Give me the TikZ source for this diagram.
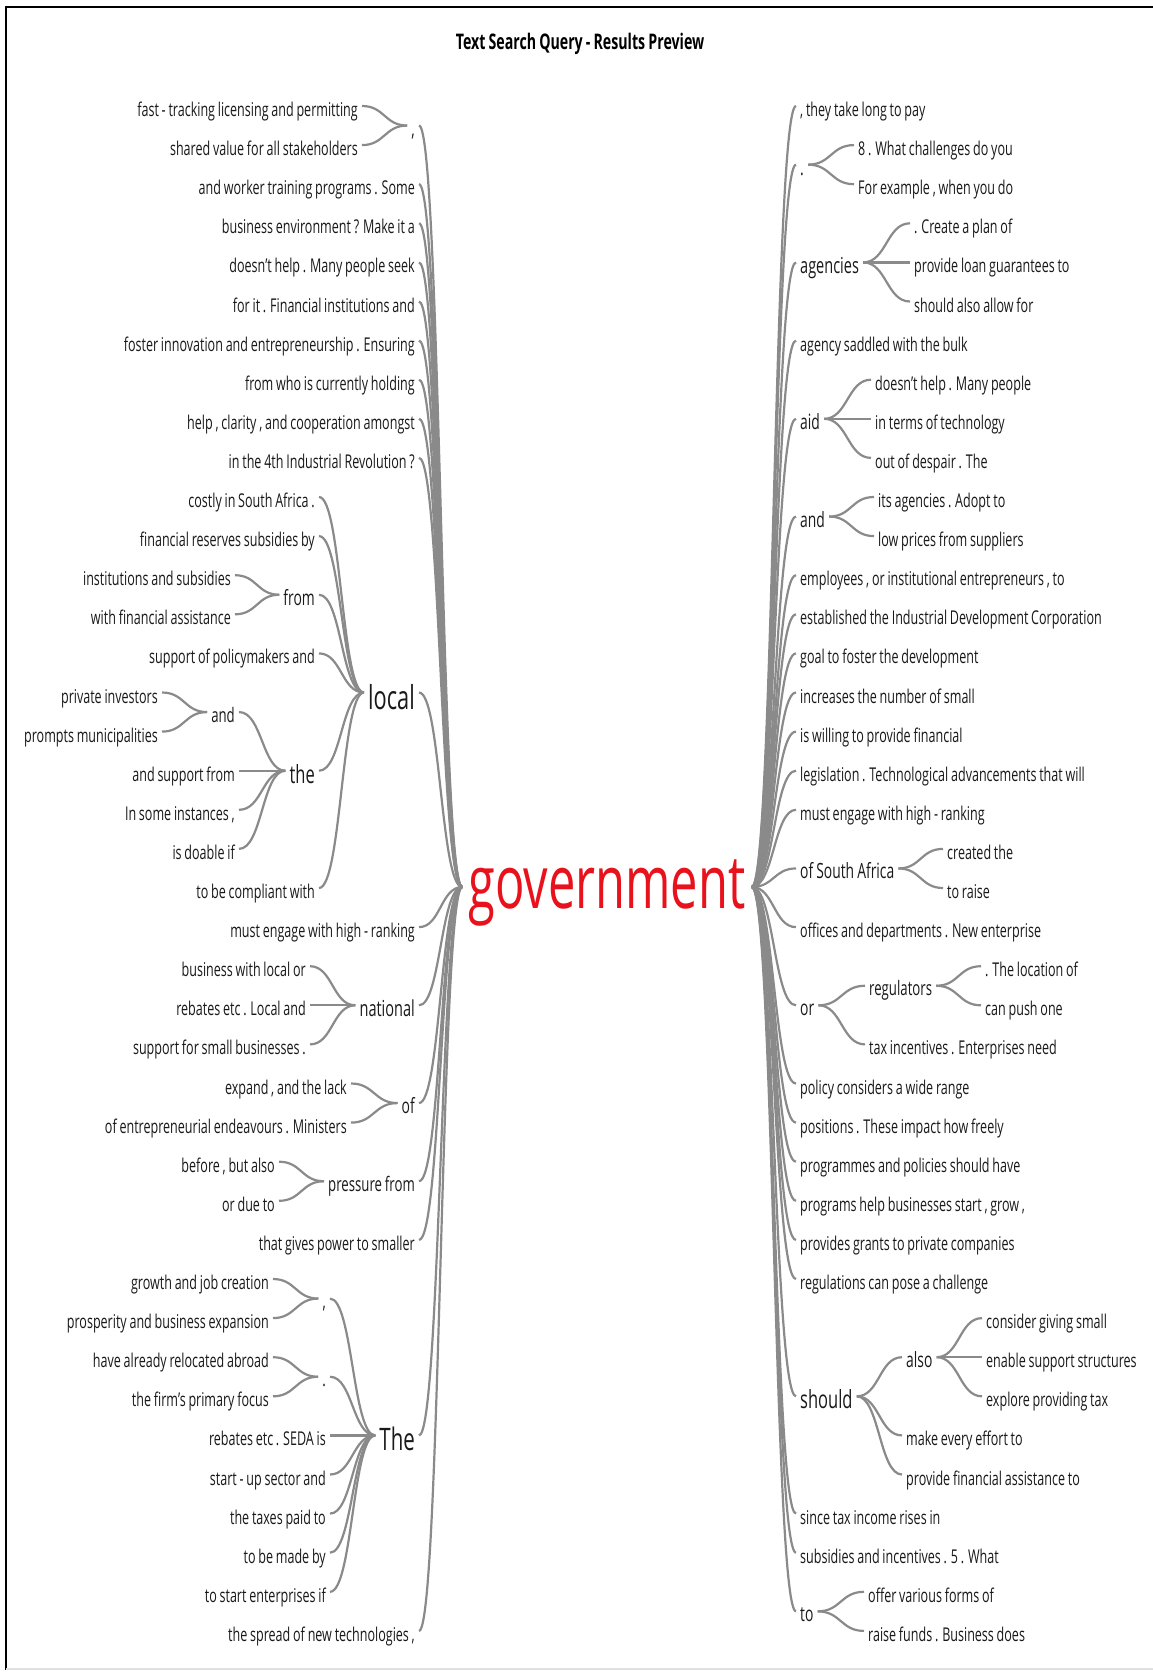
\documentclass[tikz,border=0pt]{standalone}
\usepackage{fontspec}
\setmainfont[FakeStretch=0.66,WordSpace=0.85]{Open Sans}
\usetikzlibrary{calc}
\definecolor{twiggray}{RGB}{138,138,138}
\definecolor{rootred}{RGB}{232,18,28}
\newcommand{\rowy}[1]{106+39.1*(#1)}
\tikzset{
  tree/.style={x=1pt,y=-1pt},
  leaf/.style={font=\fontsize{19}{22}\selectfont,inner xsep=4pt,inner ysep=0pt,
    text height=21pt,text depth=0pt,text=black!90},
  hub/.style={font=\fontsize{#1}{#1}\selectfont,inner xsep=4pt,inner ysep=0pt,
    text height=#1pt,text depth=0pt,text=black!90},
  hub/.default=21,
  root/.style={font=\fontsize{74}{74}\selectfont,text=rootred,inner xsep=6pt,inner ysep=0pt,
    text height=42pt,text depth=0pt},
  twig/.style={draw=twiggray,line width=2.2pt,
    to path={let \p1=(\tikztostart), \p2=(\tikztotarget) in
      .. controls ($(\p1)+({(\x2-\x1)/2},0pt)$) and ($(\p2)-({(\x2-\x1)/2},0pt)$) .. (\tikztotarget)}},
  frame/.style={line width=1.6pt},
}
\begin{document}
\begin{tikzpicture}[tree]
\useasboundingbox (0,0) rectangle (1153,1675);
\draw[frame] (6,1670) -- (6,7) -- (1153,7);
\draw[frame,draw=black!12] (6,1669) -- (1153,1669);
\node[font=\fontsize{21.5}{24}\selectfont\bfseries] (title) at (580,44) {Text Search Query - Results Preview};

\node[root] (gov) at (607,887) {government};

% left half
\foreach \r/\txt in {2/{and worker training programs . Some},3/{business environment ? Make it a},
  4/{doesn't help . Many people seek},5/{for it . Financial institutions and},
  6/{foster innovation and entrepreneurship . Ensuring},7/{from who is currently holding},
  8/{help , clarity , and cooperation amongst},9/{in the 4th Industrial Revolution ?},
  21/{must engage with high - ranking},29/{that gives power to smaller},39/{the spread of new technologies ,}} {
  \node[leaf,anchor=east] (L\r) at (419,{\rowy{\r}}) {\txt};
  \draw[twig] (L\r.east) to (gov.west);
}

\node[hub,anchor=east] (lcomma) at (419,{\rowy{0.5}}) {,};
\draw[twig] (lcomma.east) to (gov.west);
\foreach \r/\txt in {0/{fast - tracking licensing and permitting},1/{shared value for all stakeholders}} {
  \node[leaf,anchor=east] (L\r) at (362,{\rowy{\r}}) {\txt};
  \draw[twig] (L\r.east) to (lcomma.west);
}

\node[hub=33,anchor=east] (local) at (419,{\rowy{15}}) {local};
\draw[twig] (local.east) to (gov.west);
\foreach \r/\txt in {10/{costly in South Africa .},11/{financial reserves subsidies by},
  14/{support of policymakers and},20/{to be compliant with}} {
  \node[leaf,anchor=east] (L\r) at (319,{\rowy{\r}}) {\txt};
  \draw[twig] (L\r.east) to (local.west);
}
\node[hub,anchor=east] (lfrom) at (319,{\rowy{12.5}}) {from};
\draw[twig] (lfrom.east) to (local.west);
\foreach \r/\txt in {12/{institutions and subsidies},13/{with financial assistance}} {
  \node[leaf,anchor=east] (L\r) at (235,{\rowy{\r}}) {\txt};
  \draw[twig] (L\r.east) to (lfrom.west);
}
\node[hub=25,anchor=east] (lthe) at (319,{\rowy{17}}) {the};
\draw[twig] (lthe.east) to (local.west);
\node[hub=20,anchor=east] (land) at (239,{\rowy{15.5}}) {and};
\draw[twig] (land.east) to (lthe.west);
\foreach \r/\txt in {17/{and support from},18/{In some instances ,},19/{is doable if}} {
  \node[leaf,anchor=east] (L\r) at (239,{\rowy{\r}}) {\txt};
  \draw[twig] (L\r.east) to (lthe.west);
}
\foreach \r/\txt in {15/{private investors},16/{prompts municipalities}} {
  \node[leaf,anchor=east] (L\r) at (162,{\rowy{\r}}) {\txt};
  \draw[twig] (L\r.east) to (land.west);
}

\node[hub=22,anchor=east] (national) at (419,{\rowy{23}}) {national};
\draw[twig] (national.east) to (gov.west);
\foreach \r/\txt in {22/{business with local or},23/{rebates etc . Local and},24/{support for small businesses .}} {
  \node[leaf,anchor=east] (L\r) at (310,{\rowy{\r}}) {\txt};
  \draw[twig] (L\r.east) to (national.west);
}
\node[hub,anchor=east] (lof) at (419,{\rowy{25.5}}) {of};
\draw[twig] (lof.east) to (gov.west);
\foreach \r/\txt in {25/{expand , and the lack},26/{of entrepreneurial endeavours . Ministers}} {
  \node[leaf,anchor=east] (L\r) at (351,{\rowy{\r}}) {\txt};
  \draw[twig] (L\r.east) to (lof.west);
}
\node[hub=20,anchor=east] (pressure) at (419,{\rowy{27.5}}) {pressure from};
\draw[twig] (pressure.east) to (gov.west);
\foreach \r/\txt in {27/{before , but also},28/{or due to}} {
  \node[leaf,anchor=east] (L\r) at (279,{\rowy{\r}}) {\txt};
  \draw[twig] (L\r.east) to (pressure.west);
}

\node[hub=31,anchor=east] (The) at (419,{\rowy{34}}) {The};
\draw[twig] (The.east) to (gov.west);
\node[hub=20,anchor=east] (Tcomma) at (330,{\rowy{30.5}}) {,};
\node[hub=20,anchor=east] (Tdot) at (330,{\rowy{32.5}}) {.};
\draw[twig] (Tcomma.east) to (The.west);
\draw[twig] (Tdot.east) to (The.west);
\foreach \r/\txt in {34/{rebates etc . SEDA is},35/{start - up sector and},36/{the taxes paid to},
  37/{to be made by},38/{to start enterprises if}} {
  \node[leaf,anchor=east] (L\r) at (330,{\rowy{\r}}) {\txt};
  \draw[twig] (L\r.east) to (The.west);
}
\foreach \r/\txt in {30/{growth and job creation},31/{prosperity and business expansion}} {
  \node[leaf,anchor=east] (L\r) at (273,{\rowy{\r}}) {\txt};
  \draw[twig] (L\r.east) to (Tcomma.west);
}
\foreach \r/\txt in {32/{have already relocated abroad},33/{the firm's primary focus}} {
  \node[leaf,anchor=east] (L\r) at (273,{\rowy{\r}}) {\txt};
  \draw[twig] (L\r.east) to (Tdot.west);
}

% right half
\foreach \r/\txt in {0/{, they take long to pay},6/{agency saddled with the bulk},
  12/{employees , or institutional entrepreneurs , to},13/{established the Industrial Development Corporation},
  14/{goal to foster the development},15/{increases the number of small},16/{is willing to provide financial},
  17/{legislation . Technological advancements that will},18/{must engage with high - ranking},
  21/{offices and departments . New enterprise},25/{policy considers a wide range},
  26/{positions . These impact how freely},27/{programmes and policies should have},
  28/{programs help businesses start , grow ,},29/{provides grants to private companies},
  30/{regulations can pose a challenge},36/{since tax income rises in},37/{subsidies and incentives . 5 . What}} {
  \node[leaf,anchor=west] (R\r) at (796,{\rowy{\r}}) {\txt};
  \draw[twig] (gov.east) to (R\r.west);
}

\node[hub,anchor=west] (rdot) at (796,{\rowy{1.5}}) {.};
\draw[twig] (gov.east) to (rdot.west);
\foreach \r/\txt in {1/{8 . What challenges do you},2/{For example , when you do}} {
  \node[leaf,anchor=west] (R\r) at (854,{\rowy{\r}}) {\txt};
  \draw[twig] (rdot.east) to (R\r.west);
}
\node[hub=22,anchor=west] (agencies) at (796,{\rowy{4}}) {agencies};
\draw[twig] (gov.east) to (agencies.west);
\foreach \r/\txt in {3/{. Create a plan of},4/{provide loan guarantees to},5/{should also allow for}} {
  \node[leaf,anchor=west] (R\r) at (910,{\rowy{\r}}) {\txt};
  \draw[twig] (agencies.east) to (R\r.west);
}
\node[hub,anchor=west] (aid) at (796,{\rowy{8}}) {aid};
\draw[twig] (gov.east) to (aid.west);
\foreach \r/\txt in {7/{doesn't help . Many people},8/{in terms of technology},9/{out of despair . The}} {
  \node[leaf,anchor=west] (R\r) at (871,{\rowy{\r}}) {\txt};
  \draw[twig] (aid.east) to (R\r.west);
}
\node[hub,anchor=west] (rand) at (796,{\rowy{10.5}}) {and};
\draw[twig] (gov.east) to (rand.west);
\foreach \r/\txt in {10/{its agencies . Adopt to},11/{low prices from suppliers}} {
  \node[leaf,anchor=west] (R\r) at (874,{\rowy{\r}}) {\txt};
  \draw[twig] (rand.east) to (R\r.west);
}
\node[hub,anchor=west] (southafrica) at (796,{\rowy{19.5}}) {of South Africa};
\draw[twig] (gov.east) to (southafrica.west);
\foreach \r/\txt in {19/{created the},20/{to raise}} {
  \node[leaf,anchor=west] (R\r) at (943,{\rowy{\r}}) {\txt};
  \draw[twig] (southafrica.east) to (R\r.west);
}
\node[hub,anchor=west] (ror) at (796,{\rowy{23}}) {or};
\draw[twig] (gov.east) to (ror.west);
\node[hub=20,anchor=west] (regulators) at (865,{\rowy{22.5}}) {regulators};
\node[leaf,anchor=west] (R24) at (865,{\rowy{24}}) {tax incentives . Enterprises need};
\draw[twig] (ror.east) to (regulators.west);
\draw[twig] (ror.east) to (R24.west);
\foreach \r/\txt in {22/{. The location of},23/{can push one}} {
  \node[leaf,anchor=west] (R\r) at (981,{\rowy{\r}}) {\txt};
  \draw[twig] (regulators.east) to (R\r.west);
}
\node[hub=25,anchor=west] (should) at (796,{\rowy{33}}) {should};
\draw[twig] (gov.east) to (should.west);
\node[hub,anchor=west] (also) at (902,{\rowy{32}}) {also};
\draw[twig] (should.east) to (also.west);
\foreach \r/\txt in {34/{make every effort to},35/{provide financial assistance to}} {
  \node[leaf,anchor=west] (R\r) at (902,{\rowy{\r}}) {\txt};
  \draw[twig] (should.east) to (R\r.west);
}
\foreach \r/\txt in {31/{consider giving small},32/{enable support structures},33/{explore providing tax}} {
  \node[leaf,anchor=west] (R\r) at (982,{\rowy{\r}}) {\txt};
  \draw[twig] (also.east) to (R\r.west);
}
\node[hub,anchor=west] (rto) at (796,{\rowy{38.5}}) {to};
\draw[twig] (gov.east) to (rto.west);
\foreach \r/\txt in {38/{offer various forms of},39/{raise funds . Business does}} {
  \node[leaf,anchor=west] (R\r) at (864,{\rowy{\r}}) {\txt};
  \draw[twig] (rto.east) to (R\r.west);
}
\end{tikzpicture}
\end{document}
